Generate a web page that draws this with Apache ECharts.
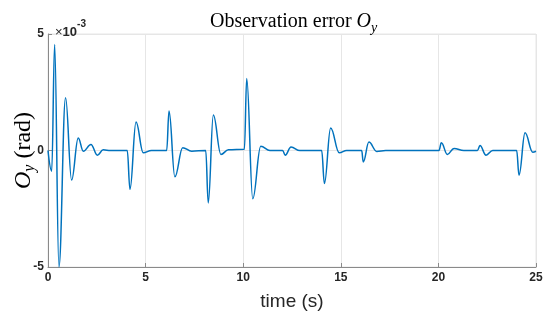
<!DOCTYPE html>
<html><head><meta charset="utf-8">
<script src="https://cdn.jsdelivr.net/npm/echarts@6/dist/echarts.min.js"></script>
<style>html,body{margin:0;padding:0;background:#fff}#c{width:550px;height:324px}</style>
</head><body><div id="c"></div>
<script>
// time (s)
const timeS = [0, 0.19, 0.34, 0.56, 0.9, 1.21, 1.55, 1.81, 2.2, 2.53, 2.83, 3.2,
  4.06, 4.2, 4.51, 4.88, 5.3, 6.08, 6.2, 6.5, 6.9, 7.36,
  8.08, 8.21, 8.47, 8.86, 9.24, 10.06, 10.18, 10.49, 10.9, 11.37,
  12.02, 12.15, 12.45, 12.9, 14.02, 14.16, 14.48, 14.92, 15.3,
  16.07, 16.15, 16.44, 16.84, 17.3, 20.03, 20.15, 20.46, 20.8, 21.3,
  22.0, 22.13, 22.44, 22.78, 24.01, 24.13, 24.44, 24.83, 25];
// observation error O_y, in units of 1e-3 rad
const obsErr = [0, -0.89, 4.55, -5.0, 2.26, -1.27, 0.54, -0.03, 0.26, -0.2, 0.03, 0,
  0, -1.67, 1.22, -0.1, 0, 0, 1.69, -1.13, 0.12, -0.03,
  0, -2.25, 1.52, -0.17, 0.03, 0.05, 3.09, -2.07, 0.18, 0,
  0, -0.2, 0.15, 0, 0, -1.42, 0.97, -0.1, 0,
  0, -0.49, 0.36, -0.04, 0, 0, 0.33, -0.17, 0.09, 0,
  0, 0.21, -0.2, 0, 0, -1.06, 0.76, -0.07, -0.03];
const xTicks = [0, 5, 10, 15, 20, 25];
const yTicks = [-5, 0, 5];
const titleText = 'Observation error ';
const xLabel = 'time (s)';
const yLabelUnit = ' (rad)';

const chart = echarts.init(document.getElementById('c'));
const axisCol = '#8a8a8a';
const txtCol = '#262626';
const gridCol = '#e6e6e6';
const serif = '"Liberation Serif", "Times New Roman", serif';
const sans = '"Liberation Sans", Arial, Helvetica, sans-serif';

chart.setOption({
  animation: false,
  backgroundColor: '#fff',
  title: [{
    text: '{a|' + titleText + '}{i|O}{s|y}',
    left: 205, top: 4,
    textStyle: {
      fontWeight: 'normal',
      rich: {
        a: {fontFamily: serif, fontSize: 20, fontWeight: 'normal', color: '#000', lineHeight: 26},
        i: {fontFamily: serif, fontSize: 20, fontWeight: 'normal', fontStyle: 'italic', color: '#000', lineHeight: 26},
        s: {fontFamily: serif, fontSize: 14, fontWeight: 'normal', fontStyle: 'italic', color: '#000', lineHeight: 13, verticalAlign: 'bottom'}
      }
    }
  }, {
    text: '{x|×}{a|10}{b|-3}',
    left: 50, top: 14,
    textStyle: {
      fontWeight: 'normal',
      rich: {
        x: {fontFamily: sans, fontSize: 13, fontWeight: 'normal', color: txtCol, lineHeight: 20, verticalAlign: 'bottom'},
        a: {fontFamily: sans, fontSize: 13, fontWeight: 'bold', color: txtCol, lineHeight: 20, verticalAlign: 'bottom'},
        b: {fontFamily: sans, fontSize: 10, fontWeight: 'bold', color: txtCol, lineHeight: 11, verticalAlign: 'top'}
      }
    }
  }],
  grid: {left: 48, right: 14, top: 34, bottom: 57, outerBoundsMode: 'none', containLabel: false,
    show: true, borderColor: gridCol, borderWidth: 1, backgroundColor: 'transparent'},
  xAxis: {
    type: 'value', min: xTicks[0], max: xTicks[xTicks.length - 1], interval: 5,
    name: xLabel, nameLocation: 'middle', nameGap: 25, nameMoveOverlap: false,
    nameTextStyle: {fontFamily: sans, fontSize: 19, color: txtCol},
    axisLine: {show: true, onZero: false, lineStyle: {color: axisCol, width: 1}},
    axisTick: {show: true, inside: true, length: 4, lineStyle: {color: axisCol}},
    axisLabel: {fontFamily: sans, fontSize: 12, fontWeight: 'bold', color: txtCol, margin: 5},
    splitLine: {show: true, lineStyle: {color: gridCol, width: 1}}
  },
  yAxis: {
    type: 'value', min: yTicks[0], max: yTicks[yTicks.length - 1], interval: 5,
    name: '{i|O}{s|y}{a|' + yLabelUnit + '}', nameLocation: 'middle', nameGap: 10, nameRotate: 90,
    nameMoveOverlap: false,
    nameTextStyle: {
      rich: {
        a: {fontFamily: serif, fontSize: 24, color: '#000', lineHeight: 28},
        i: {fontFamily: serif, fontSize: 24, fontStyle: 'italic', color: '#000', lineHeight: 28},
        s: {fontFamily: serif, fontSize: 16, fontStyle: 'italic', color: '#000', lineHeight: 14, verticalAlign: 'bottom'}
      }
    },
    axisLine: {show: true, onZero: false, lineStyle: {color: axisCol, width: 1}},
    axisTick: {show: true, inside: true, length: 4, lineStyle: {color: axisCol}},
    axisLabel: {fontFamily: sans, fontSize: 12, fontWeight: 'bold', color: txtCol, margin: 4},
    splitLine: {show: true, lineStyle: {color: gridCol, width: 1}}
  },
  series: [{
    type: 'line',
    data: timeS.map((t, i) => [t, obsErr[i]]),
    showSymbol: false,
    smooth: 0.4,
    smoothMonotone: 'x',
    clip: true,
    lineStyle: {color: '#0072BD', width: 1.5}
  }]
});
</script>
</body></html>
